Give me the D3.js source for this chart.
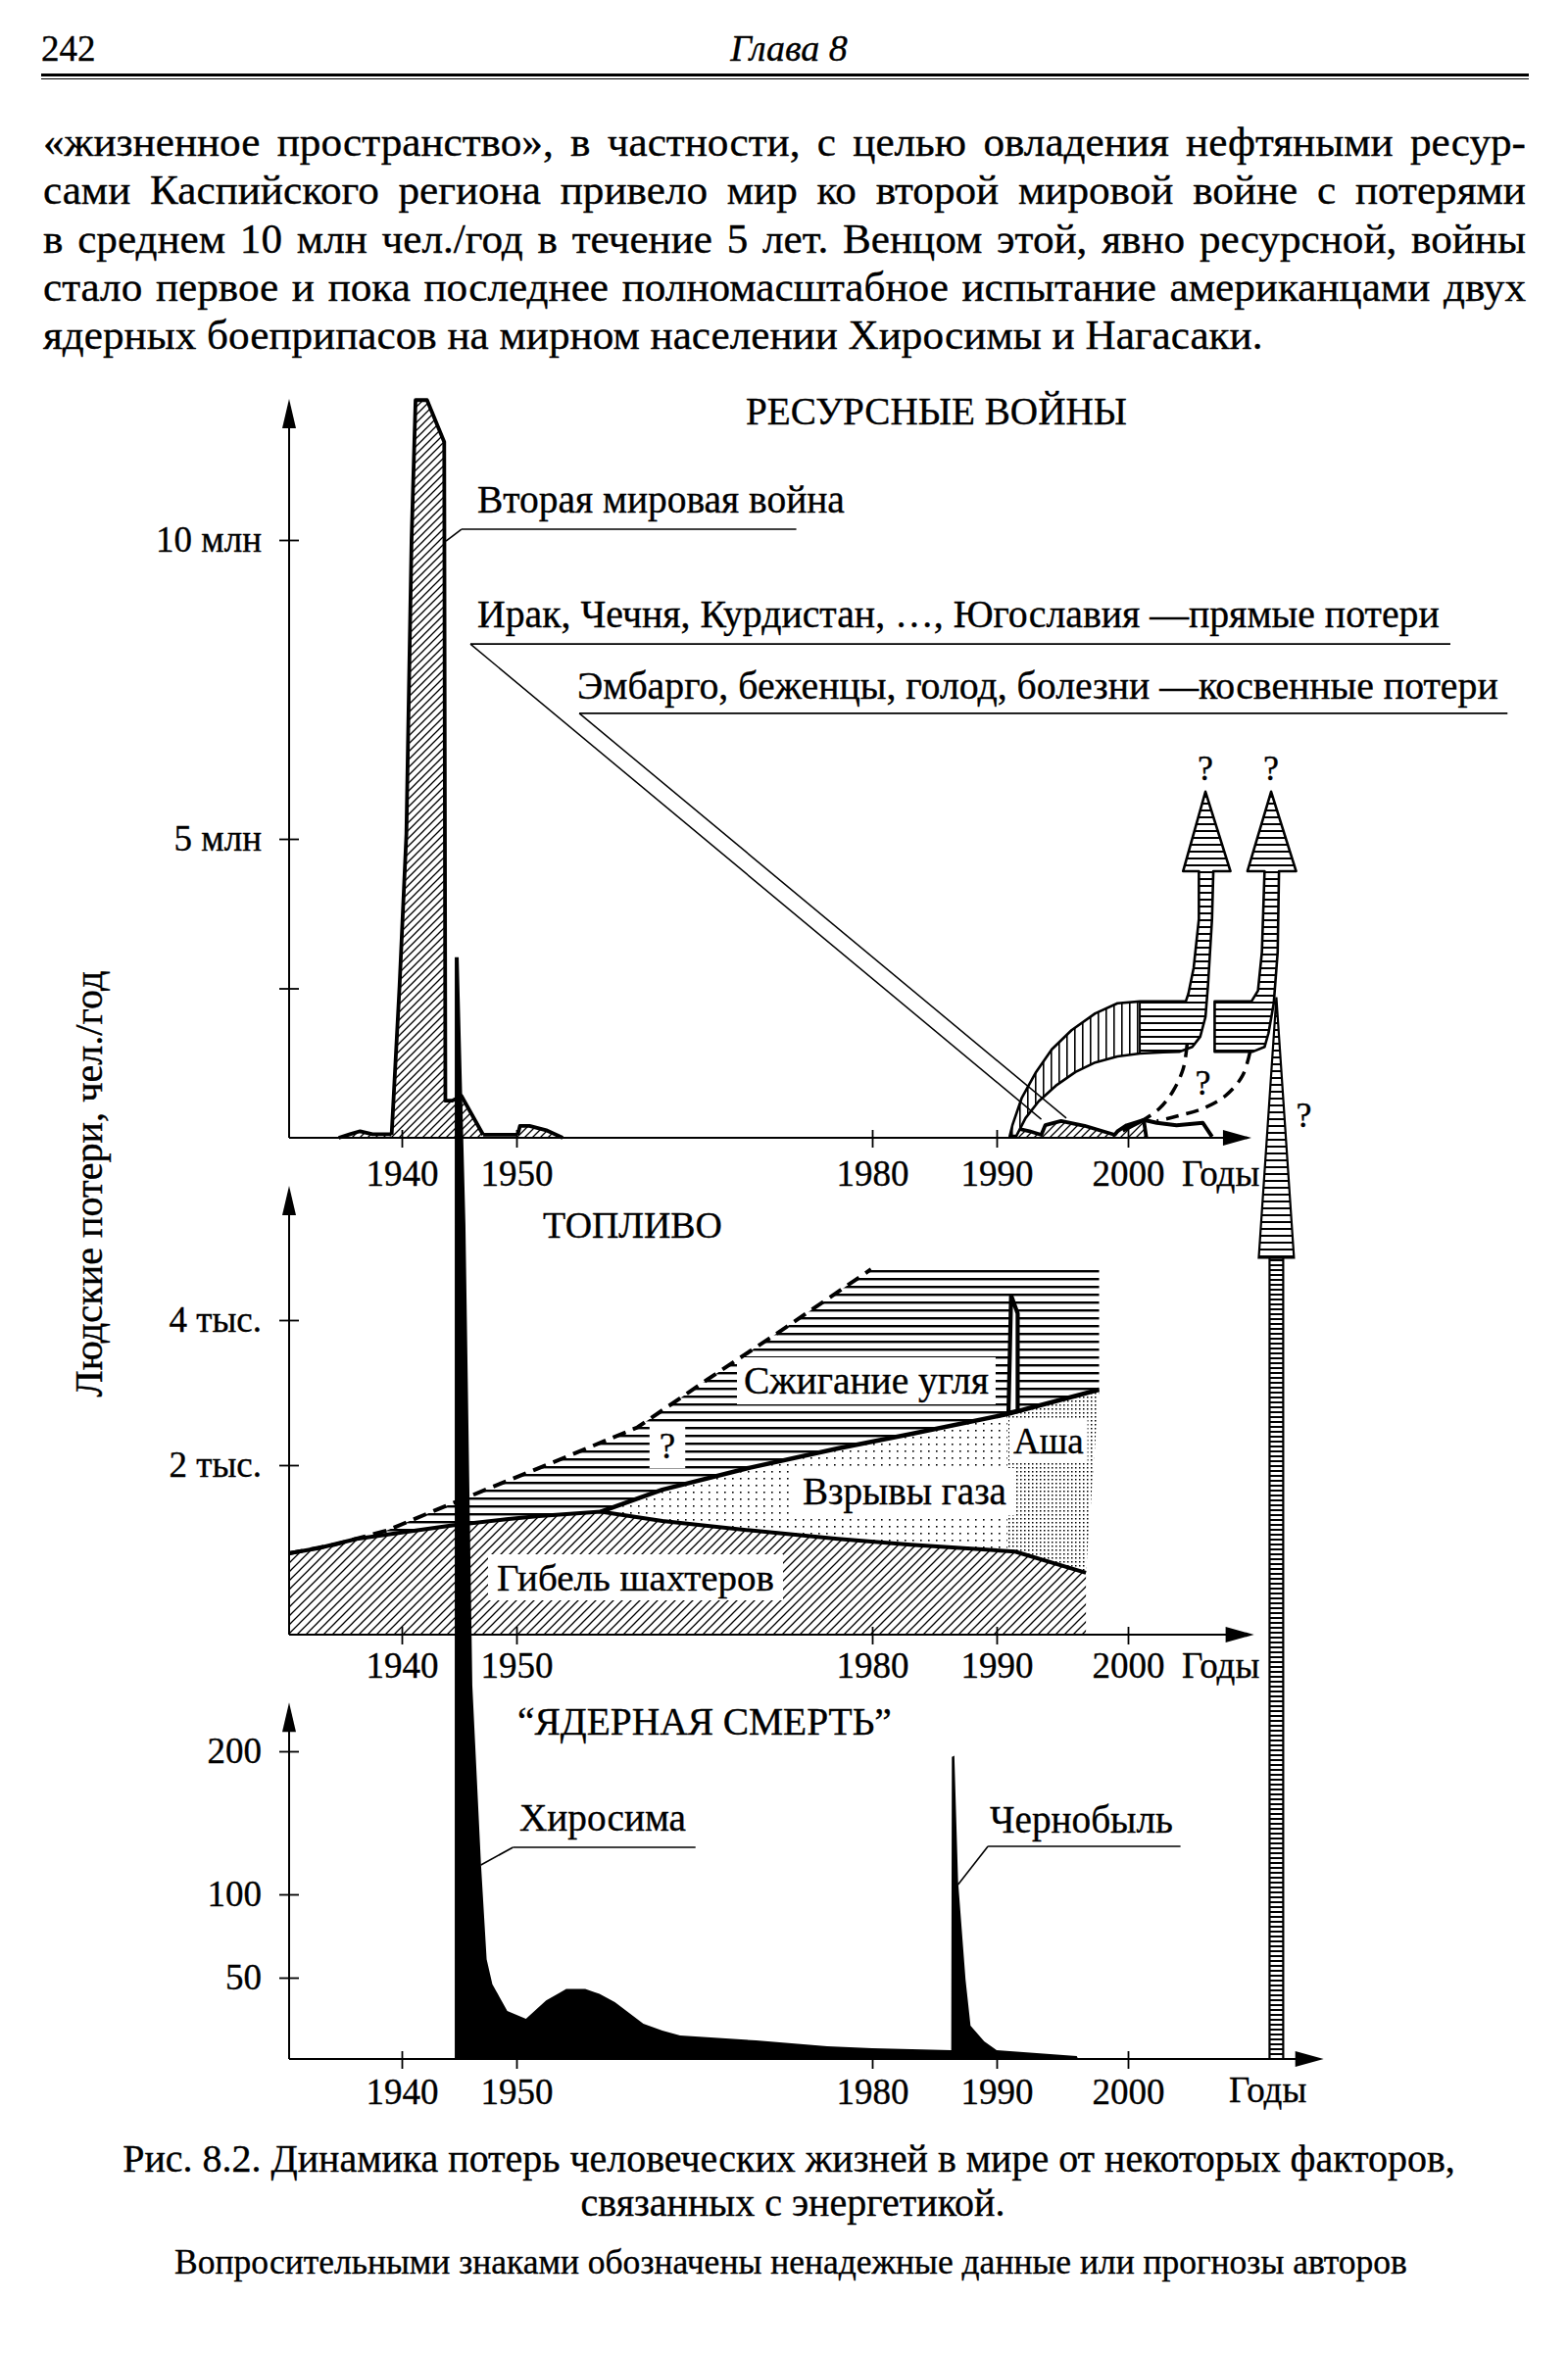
<!DOCTYPE html>
<html><head><meta charset="utf-8">
<script src="https://cdn.jsdelivr.net/npm/d3@7"></script>
<style>
html,body{margin:0;padding:0;background:#fff;}
svg{display:block;}
text{font-family:"Liberation Serif","Times New Roman",Times,serif;fill:#000;stroke:#000;stroke-width:0.35px;}
</style></head><body>
<svg id="c" width="1600" height="2401"></svg>
<script>
// ---------------- DATA ----------------
const pageNumber = '242';
const chapterTitle = 'Глава 8';
const paragraphLines = [
  '«жизненное пространство», в частности, с целью овладения нефтяными ресур-',
  'сами Каспийского региона привело мир ко второй мировой войне с потерями',
  'в среднем 10 млн чел./год в течение 5 лет. Венцом этой, явно ресурсной, войны',
  'стало первое и пока последнее полномасштабное испытание американцами двух',
  'ядерных боеприпасов на мирном населении Хиросимы и Нагасаки.'
];
const captionLines = ['Рис. 8.2. Динамика потерь человеческих жизней в мире от некоторых факторов,', 'связанных с энергетикой.'];
const captionNote = 'Вопросительными знаками обозначены ненадежные данные или прогнозы авторов';
const yAxisTitle = 'Людские потери, чел./год';
const xAxisLabel = 'Годы';
const xTickYears = [1940, 1950, 1980, 1990, 2000];

// Panel 1: resource wars (mln per year)
const topTitle = 'РЕСУРСНЫЕ ВОЙНЫ';
const topTicks = [2.5, 5, 10];
const topTickLabels = ['', '5 млн', '10 млн'];
const prewarYears = [1934.4, 1935.4, 1936.3, 1937.4, 1938.9, 1939.1];
const prewarLoss  = [0, 0.06, 0.11, 0.06, 0.06, 0.05];
const ww2Years = [1939.1, 1939.8, 1940.4, 1940.85, 1941.2, 1942.2, 1943.7, 1943.8, 1944.4, 1945.2, 1947.1];
const ww2Loss  = [0.05, 2.54, 5.08, 10, 12.34, 12.34, 11.64, 0.62, 0.62, 0.70, 0.05];
const postwarYears = [1947.1, 1950.1];
const postwarLoss  = [0.05, 0.05];
const koreaYears = [1950.1, 1950.3, 1951.1, 1952.6, 1953.9];
const koreaLoss  = [0.05, 0.2, 0.2, 0.12, 0];
const directYears = [1991.0, 1991.5, 1992.5, 1993.4, 1993.7, 1994.9, 1996.7, 1999.0, 1999.2, 1999.9, 2001.2, 2001.4];
const directLoss  = [0, 0.16, 0.11, 0.05, 0.21, 0.28, 0.2, 0.05, 0.11, 0.21, 0.3, 0];
const indirectYears = [1999.6, 2001.2, 2002.2, 2003.7, 2005.7, 2006.4];
const indirectLoss  = [0.12, 0.3, 0.25, 0.21, 0.25, 0.02];
// forecast arrow 1 (direct losses)
const bandOuterYears = [1991.0, 1991.2, 1991.9, 1993.0, 1994.2, 1995.7, 1997.5, 1999.2, 2000.9];
const bandOuterVals  = [0.03, 0.21, 0.66, 1.10, 1.48, 1.80, 2.08, 2.25, 2.28];
const bandInnerYears = [1991.5, 1992.2, 1993.2, 1994.5, 1996.0, 1997.5, 1999.2, 2000.9];
const bandInnerVals  = [0.03, 0.33, 0.61, 0.87, 1.10, 1.26, 1.36, 1.41];
const arrow1Years = [2004.4, 2004.6, 2005.0, 2005.4, 2005.4, 2004.2, 2005.9, 2007.8, 2006.5, 2006.4, 2006.1, 2005.9, 2005.5, 2004.9, 2003.9, 2002.7];
const arrow1Vals  = [2.28, 2.41, 2.84, 3.66, 4.46, 4.46, 5.79, 4.46, 4.46, 3.66, 2.57, 2.02, 1.69, 1.52, 1.44, 1.43];
// forecast arrow 2 (indirect losses)
const arrow2Years = [2006.6, 2006.6, 2009.4, 2009.9, 2010.2, 2010.4, 2009.1, 2010.9, 2012.8, 2011.5, 2011.4, 2011.1, 2010.7, 2010.4, 2009.5];
const arrow2Vals  = [1.44, 2.28, 2.28, 2.46, 3.11, 4.46, 4.46, 5.79, 4.46, 4.46, 3.11, 2.25, 1.75, 1.52, 1.44];
const dash1Years = [2004.5, 2004.2, 2003.4, 2002.4, 2001.2];
const dash1Vals  = [1.56, 1.15, 0.77, 0.49, 0.30];
const dash2Years = [2009.3, 2008.7, 2007.4, 2005.7, 2003.7, 2002.2];
const dash2Vals  = [1.44, 1.03, 0.70, 0.49, 0.36, 0.28];
const topLabels = ['Вторая мировая война', 'Ирак, Чечня, Курдистан, …, Югославия —прямые потери', 'Эмбарго, беженцы, голод, болезни —косвенные потери'];

// Panel 2: fuel (thousand per year)
const midTitle = 'ТОПЛИВО';
const midTicks = [2, 4];
const midTickLabels = ['2 тыс.', '4 тыс.'];
const minersYears  = [1930, 1932.6, 1936.0, 1940.3, 1944.4, 1949.1, 1951.9, 1957.1, 1962.3, 1969.7, 1977.1, 1983.1, 1991.4, 1996.8];
const minersDeaths = [0.96, 1.02, 1.13, 1.21, 1.29, 1.36, 1.40, 1.45, 1.34, 1.23, 1.13, 1.06, 0.98, 0.73];
const gasYears = [1957.1, 1962.3, 1969.7, 1977.1, 1983.1, 1990.7, 1997.8];
const gasTop   = [1.45, 1.71, 1.97, 2.23, 2.43, 2.70, 3.04];
const coalYears = [1930.0, 1934.0, 1938.7, 1943.7, 1948.4, 1954.3, 1960.2, 1966.1, 1972.0, 1979.9, 1997.8];
const coalTop   = [0.96, 1.06, 1.23, 1.51, 1.77, 2.12, 2.52, 3.18, 3.82, 4.70, 4.70];
const ashaYears  = [1990.9, 1991.1, 1991.6, 1991.6];
const ashaDeaths = [2.72, 4.34, 4.09, 2.75];
const midLabels = ['Сжигание угля', '?', 'Взрывы газа', 'Аша', 'Гибель шахтеров'];

// Panel 3: nuclear death (per year)
const botTitle = '“ЯДЕРНАЯ СМЕРТЬ”';
const botTicks = [50, 100, 200];
const botTickLabels = ['50', '100', '200'];
const nuclearYears  = [1930, 1944.62, 1944.62, 1944.96, 1945.55, 1946.15, 1946.9, 1947.4, 1947.9, 1949.2, 1950.8, 1952.5, 1954.2, 1955.8, 1957.0, 1958.3, 1960.7, 1962.3, 1963.8, 1970.2, 1976.2, 1980, 1986.35, 1986.4, 1986.6, 1986.9, 1987.5, 1987.9, 1989.0, 1990.0, 1996.1, 1996.2];
const nuclearDeaths = [0, 0, 755, 755, 568, 246, 122, 61, 46, 29.5, 24.7, 36, 43, 43, 40, 35, 21.7, 17.5, 14.5, 11.4, 7.8, 6.6, 5.4, 196, 197, 109, 48.8, 20.5, 10.8, 5.4, 1.8, 0];
const botLabels = ['Хиросима', 'Чернобыль'];

// ---------------- SCALES ----------------
const X = d3.scaleLinear().domain([1930, 1940, 1950, 1980, 1990, 2000, 2010]).range([295, 410, 527, 890, 1017, 1151, 1285]);
const yTop = d3.scaleLinear().domain([0, 10]).range([1161, 551]);
const yMid = d3.scaleLinear().domain([0, 2, 4]).range([1668, 1495, 1347]);
const yBot = d3.scaleLinear().domain([0, 50, 100, 200]).range([2101, 2018, 1933, 1787]);

const FONT = '"Liberation Serif","Times New Roman",Times,serif';
const svg = d3.select('#c');
const defs = svg.append('defs');
function pat(id, w, h, draw) {
  const p = defs.append('pattern').attr('id', id).attr('patternUnits', 'userSpaceOnUse').attr('width', w).attr('height', h);
  p.append('rect').attr('width', w).attr('height', h).attr('fill', '#fff');
  draw(p);
}
pat('diag', 8, 8, p => p.append('path').attr('d', 'M-2,2L2,-2M0,8L8,0M6,10L10,6').attr('stroke', '#000').attr('stroke-width', 1.3));
pat('diag9', 9, 9, p => p.append('path').attr('d', 'M-2,2L2,-2M0,9L9,0M7,11L11,7').attr('stroke', '#000').attr('stroke-width', 1.3));
pat('hl8', 8, 8, p => p.append('rect').attr('width', 8).attr('height', 2.4).attr('fill', '#000'));
pat('hl7', 7, 7, p => p.append('rect').attr('width', 7).attr('height', 2).attr('fill', '#000'));
pat('vl8', 8, 8, p => p.append('rect').attr('width', 1.6).attr('height', 8).attr('fill', '#000'));
pat('ladder', 5, 5, p => p.append('rect').attr('width', 5).attr('height', 2).attr('fill', '#000'));
pat('dots', 8, 7, p => p.append('rect').attr('x', 3).attr('y', 3).attr('width', 1.6).attr('height', 1.6).attr('fill', '#000'));
pat('dotsD', 4, 4, p => p.append('rect').attr('x', 1).attr('y', 1).attr('width', 1.5).attr('height', 1.5).attr('fill', '#000'));

const zip = (ys, vs) => ys.map((y, i) => [y, vs[i]]);
const pts = (ys, vs, s) => ys.map((y, i) => [X(y), s(vs[i])]);
const line = d3.line();
const areaPath = (ys, vs, s) => d3.area().x(d => X(d[0])).y0(s(0)).y1(d => s(d[1]))(zip(ys, vs));

function txt(x, y, t, fs, opts = {}) {
  const e = svg.append('text').attr('x', x).attr('y', y).attr('font-size', fs).text(t);
  if (opts.anchor) e.attr('text-anchor', opts.anchor);
  if (opts.italic) e.attr('font-style', 'italic');
  if (opts.fit) { const len = e.node().getComputedTextLength(); e.attr('font-size', fs * opts.fit / len); }
  return e;
}
function ln(x1, y1, x2, y2, w = 1.6) {
  return svg.append('line').attr('x1', x1).attr('y1', y1).attr('x2', x2).attr('y2', y2).attr('stroke', '#000').attr('stroke-width', w);
}
function box(e, px = 6, py = 3) {
  const b = e.node().getBBox();
  svg.insert('rect', () => e.node()).attr('x', b.x - px).attr('y', b.y - py).attr('width', b.width + 2 * px).attr('height', b.height + 2 * py).attr('fill', '#fff');
}

// ---------------- HEADER & PARAGRAPH ----------------
txt(42, 62, pageNumber, 37);
txt(805, 62, chapterTitle, 38, {anchor: 'middle', italic: true});
ln(42, 76.5, 1560, 76.5, 3);
ln(42, 80.5, 1560, 80.5, 1.2);
const PL = 44, PR = 1557;
// font size derived from the (unjustified) last line's printed width
const probe = txt(PL, -100, paragraphLines[paragraphLines.length - 1], 40, {fit: 1245});
const paraFS = +probe.attr('font-size');
probe.remove();
paragraphLines.forEach((t, i) => {
  const y = 159 + i * 49.3;
  const e = txt(PL, y, t, paraFS);
  if (i < paragraphLines.length - 1) {
    const n = t.split(' ').length - 1;
    const len = e.node().getComputedTextLength();
    e.attr('word-spacing', (PR - PL - len) / n);
  }
});

// ---------------- AXES HELPERS ----------------
function xAxisAt(s, tipYear, labelBase) {
  const yA = s(0), tip = X(tipYear);
  const g = svg.append('g');
  g.append('line').attr('x1', X(1930)).attr('x2', tip - 20).attr('y1', yA).attr('y2', yA).attr('stroke', '#000').attr('stroke-width', 2.2);
  g.append('path').attr('d', `M${tip},${yA}L${tip - 29},${yA - 8}L${tip - 29},${yA + 8}Z`).attr('fill', '#000');
  const ax = d3.axisBottom(X).tickValues(xTickYears).tickFormat(d3.format('d')).tickSize(18).tickPadding(0);
  const ag = g.append('g').attr('transform', `translate(0,${yA - 8})`).call(ax);
  ag.attr('font-family', FONT).attr('font-size', 37);
  ag.select('.domain').remove();
  ag.selectAll('.tick line').attr('stroke', '#000').attr('stroke-width', 1.8);
  ag.selectAll('.tick text').attr('y', labelBase - (yA - 8)).attr('dy', 0).attr('fill', '#000');
}
function yAxisAt(s, tipVal, ticks, labels) {
  const x0 = X(1930), yb = s(0), tipY = s(tipVal);
  const g = svg.append('g');
  g.append('line').attr('x1', x0).attr('x2', x0).attr('y1', yb).attr('y2', tipY + 22).attr('stroke', '#000').attr('stroke-width', 2);
  g.append('path').attr('d', `M${x0},${tipY}L${x0 - 7},${tipY + 30}L${x0 + 7},${tipY + 30}Z`).attr('fill', '#000');
  const ax = d3.axisLeft(s).tickValues(ticks).tickFormat((d, i) => labels[i]).tickSize(20).tickPadding(18);
  const ag = g.append('g').attr('transform', `translate(${x0 + 10},0)`).call(ax);
  ag.attr('font-family', FONT).attr('font-size', 37);
  ag.select('.domain').remove();
  ag.selectAll('.tick line').attr('stroke', '#000').attr('stroke-width', 1.8);
  ag.selectAll('.tick text').attr('fill', '#000').attr('dy', '0.3em');
}

// ---------------- PANEL 1 ----------------
[[prewarYears, prewarLoss], [ww2Years, ww2Loss], [koreaYears, koreaLoss], [directYears, directLoss]].forEach(([ys, vs]) => {
  svg.append('path').attr('d', areaPath(ys, vs, yTop)).attr('fill', 'url(#diag)');
});
xAxisAt(yTop, 2009.4, 1210);
yAxisAt(yTop, 12.36, topTicks, topTickLabels);
[[prewarYears, prewarLoss], [ww2Years, ww2Loss], [postwarYears, postwarLoss], [koreaYears, koreaLoss], [directYears, directLoss]].forEach(([ys, vs]) => {
  svg.append('path').attr('d', line(pts(ys, vs, yTop))).attr('fill', 'none').attr('stroke', '#000').attr('stroke-width', 3.8).attr('stroke-linejoin', 'round');
});
svg.append('path').attr('d', line(pts(indirectYears, indirectLoss, yTop))).attr('fill', 'none').attr('stroke', '#000').attr('stroke-width', 4).attr('stroke-linejoin', 'round');

// forecast arrows
const outer = pts(bandOuterYears, bandOuterVals, yTop);
const inner = pts(bandInnerYears, bandInnerVals, yTop).reverse();
const a1 = outer.concat(pts(arrow1Years, arrow1Vals, yTop), inner);
svg.append('path').attr('d', line(a1) + 'Z').attr('fill', 'url(#hl7)');
svg.append('path').attr('d', line(outer.concat(inner)) + 'Z').attr('fill', 'url(#vl8)');
ln(X(2000.9), yTop(2.28), X(2000.9), yTop(1.41), 2);
svg.append('path').attr('d', line(a1) + 'Z').attr('fill', 'none').attr('stroke', '#000').attr('stroke-width', 2.6).attr('stroke-linejoin', 'round');
const a2 = pts(arrow2Years, arrow2Vals, yTop);
svg.append('path').attr('d', line(a2) + 'Z').attr('fill', 'url(#hl7)').attr('stroke', '#000').attr('stroke-width', 2.6).attr('stroke-linejoin', 'round');
const curve = d3.line().curve(d3.curveCatmullRom);
[[dash1Years, dash1Vals], [dash2Years, dash2Vals]].forEach(([ys, vs]) => {
  svg.append('path').attr('d', curve(pts(ys, vs, yTop))).attr('fill', 'none').attr('stroke', '#000').attr('stroke-width', 3.5).attr('stroke-dasharray', '13,8');
});
txt(X(2005.9), yTop(5.79) - 12, '?', 36, {anchor: 'middle'});
txt(X(2010.9), yTop(5.79) - 12, '?', 36, {anchor: 'middle'});
txt(X(2005.7), yTop(0.72), '?', 36, {anchor: 'middle'});
txt(X(2013.4), yTop(0.18), '?', 36, {anchor: 'middle'});

// titles & labels
txt(761, 433, topTitle, 37, {fit: 389});
txt(487, 523, topLabels[0], 37, {fit: 375});
ln(X(1945.2), yTop(10.18), X(1973.6), yTop(10.18));
ln(X(1945.2), yTop(10.18), X(1943.85), yTop(9.98));
txt(487, 640, topLabels[1], 37, {fit: 982});
ln(X(1945.98), yTop(8.26), X(2024.55), yTop(8.26));
ln(X(1945.98), yTop(8.26), X(1993.4), yTop(0.31), 1.5);
txt(589, 713, topLabels[2], 37, {fit: 940});
ln(X(1955.3), yTop(7.10), X(2028.9), yTop(7.10));
ln(X(1955.3), yTop(7.10), X(1995.3), yTop(0.33), 1.5);
txt(1206, 1210, xAxisLabel, 37);

// ---------------- PANEL 2 ----------------
svg.append('path').attr('d', areaPath(minersYears, minersDeaths, yMid)).attr('fill', 'url(#diag9)');
const gasUp = pts(gasYears, gasTop, yMid);
const minersPts = pts(minersYears, minersDeaths, yMid);
const minersAfter = minersPts.filter((p, i) => minersYears[i] >= 1957.1).reverse();
const gasPoly = line(gasUp.concat(minersAfter)) + 'Z';
svg.append('path').attr('d', gasPoly).attr('fill', 'url(#dots)');
defs.append('clipPath').attr('id', 'denseClip').append('rect').attr('x', X(1990.8)).attr('y', 0).attr('width', 400).attr('height', 2401);
svg.append('path').attr('d', gasPoly).attr('fill', 'url(#dotsD)').attr('clip-path', 'url(#denseClip)');
const minersBefore = minersPts.filter((p, i) => minersYears[i] <= 1957.1).reverse();
const coalPoly = line(pts(coalYears, coalTop, yMid).concat(gasUp.slice().reverse(), minersBefore)) + 'Z';
svg.append('path').attr('d', coalPoly).attr('fill', 'url(#hl8)');

// label boxes + text
const mt1 = txt(759, 1422, midLabels[0], 37, {fit: 250}); box(mt1, 7, 2);
const mt2 = txt(681, 1488, midLabels[1], 37, {anchor: 'middle'}); box(mt2, 10, 2);
const mt3 = txt(819, 1535, midLabels[2], 37, {fit: 208}); box(mt3, 8, 2);
const mt4 = txt(1034, 1483, midLabels[3], 37); box(mt4, 4, 2);
const mt5 = txt(507, 1623, midLabels[4], 37, {fit: 283}); box(mt5, 9, 2);

svg.append('path').attr('d', line(minersPts)).attr('fill', 'none').attr('stroke', '#000').attr('stroke-width', 4).attr('stroke-linejoin', 'round');
svg.append('path').attr('d', line(gasUp)).attr('fill', 'none').attr('stroke', '#000').attr('stroke-width', 4.5).attr('stroke-linejoin', 'round');
svg.append('path').attr('d', line(pts(coalYears.slice(0, 10), coalTop.slice(0, 10), yMid))).attr('fill', 'none').attr('stroke', '#000').attr('stroke-width', 4).attr('stroke-dasharray', '14,8');
svg.append('path').attr('d', line(pts(ashaYears, ashaDeaths, yMid)) + 'Z').attr('fill', '#fff').attr('stroke', '#000').attr('stroke-width', 4.2).attr('stroke-linejoin', 'miter');
txt(554, 1263, midTitle, 37, {fit: 183});
xAxisAt(yMid, 2009.6, 1712);
yAxisAt(yMid, 5.85, midTicks, midTickLabels);
txt(1206, 1712, xAxisLabel, 37);

// ---------------- PANEL 3 ----------------
xAxisAt(yBot, 2014.9, 2147);
yAxisAt(yBot, 234, botTicks, botTickLabels);
svg.append('path').attr('d', areaPath(nuclearYears, nuclearDeaths, yBot)).attr('fill', '#000');
txt(528, 1770, botTitle, 37, {fit: 382});
txt(530, 1868, botLabels[0], 37, {fit: 170});
ln(X(1949.7), yBot(132.9), X(1965.1), yBot(132.9));
ln(X(1949.7), yBot(132.9), X(1946.9), yBot(120.5));
txt(1010, 1870, botLabels[1], 37, {fit: 187});
ln(X(1989.3), yBot(133.6), X(2004.0), yBot(133.6));
ln(X(1989.3), yBot(133.6), X(1986.9), yBot(106.8));
txt(1254, 2145, xAxisLabel, 37);

// big vertical forecast arrow (spans all panels)
const bigYear = 2011.3, headHalf = 1.34, shaftHalf = 0.52;
const tipY = yTop(2.35), baseY = yMid(4.86), botY = yBot(0);
svg.append('path').attr('d', `M${X(bigYear - shaftHalf)},${baseY}L${X(bigYear + shaftHalf)},${baseY}L${X(bigYear + shaftHalf)},${botY}L${X(bigYear - shaftHalf)},${botY}Z`)
  .attr('fill', 'url(#ladder)').attr('stroke', '#000').attr('stroke-width', 2.2);
svg.append('path').attr('d', `M${X(bigYear)},${tipY}L${X(bigYear + headHalf)},${baseY}L${X(bigYear - headHalf)},${baseY}Z`)
  .attr('fill', 'url(#hl7)').attr('stroke', '#000').attr('stroke-width', 2.2).attr('stroke-linejoin', 'miter');

// y axis title
svg.append('text').attr('transform', 'translate(104,1208) rotate(-90)').attr('text-anchor', 'middle').attr('font-size', 37).text(yAxisTitle)
  .call(e => { const len = e.node().getComputedTextLength(); e.attr('font-size', 37 * 435 / len); });

// caption
txt(805, 2216, captionLines[0], 36, {anchor: 'middle', fit: 1360});
txt(809, 2261, captionLines[1], 36, {anchor: 'middle', fit: 433});
txt(807, 2320, captionNote, 32, {anchor: 'middle', fit: 1258});
</script></body></html>
